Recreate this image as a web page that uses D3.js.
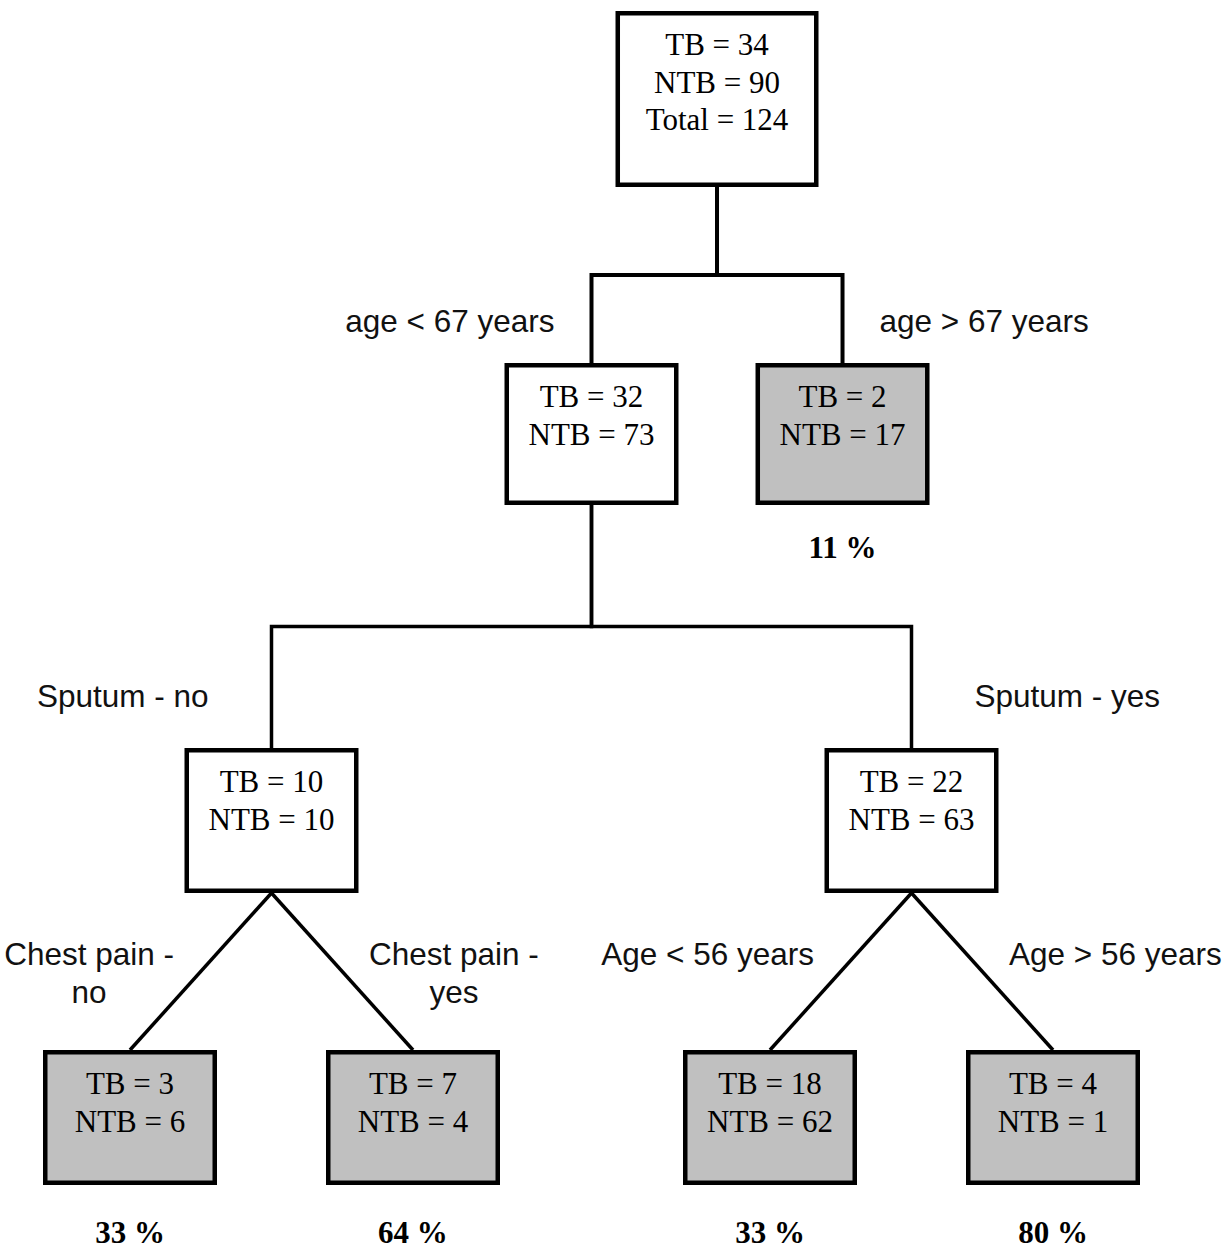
<!DOCTYPE html>
<html>
<head>
<meta charset="utf-8">
<script src="https://cdn.jsdelivr.net/npm/d3@7/dist/d3.min.js"></script>
<style>
  body { margin: 0; background: #fff; }
  svg { display: block; }
</style>
</head>
<body>
<svg id="tree"></svg>
<script>
// node data
const nodeIds   = ['root', 'lt67', 'gt67', 'spNo', 'spYes', 'cpNo', 'cpYes', 'ageLt56', 'ageGt56'];
const parentIds = ['', 'root', 'root', 'lt67', 'lt67', 'spNo', 'spNo', 'spYes', 'spYes'];
const tbCounts  = [34, 32, 2, 10, 22, 3, 7, 18, 4];
const ntbCounts = [90, 73, 17, 10, 63, 6, 4, 62, 1];
const totals    = [124, null, null, null, null, null, null, null, null];
const splitLabels = ['', 'age < 67 years', 'age > 67 years', 'Sputum - no', 'Sputum - yes',
                     'Chest pain -|no', 'Chest pain -|yes', 'Age < 56 years', 'Age > 56 years'];
const tbPercent = [null, null, 11, null, null, 33, 64, 33, 80];

// drawing setup
const width = 1227;
const height = 1255;
const serif = '"Liberation Serif", "Times New Roman", Times, serif';
const sans = '"Liberation Sans", Arial, Helvetica, sans-serif';
const grey = '#c0c0c0';
const boxStroke = 4.5;
const linkStroke = 3.5;

// level layout
const levelTop = d3.scaleOrdinal().domain([0, 1, 2, 3]).range([11, 363, 748, 1050]);
const boxW = d => d.depth === 0 ? 203 : 174;
const boxH = d => [176, 142, 145, 135][d.depth];
const labelDx = [0, 37, 63, -44];
const labelDy = [0, 31, 41, 85];
const pctDy = [0, 53, 0, 58];

const rows = nodeIds.map((id, i) => ({
  id, parent: parentIds[i] || null,
  tb: tbCounts[i], ntb: ntbCounts[i], total: totals[i],
  label: splitLabels[i], pct: tbPercent[i]
}));

const root = d3.stratify().id(d => d.id).parentId(d => d.parent)(rows);

d3.tree()
  .nodeSize([1, 1])
  .separation((a, b) => a.depth === 1 ? 0.887 : (a.parent === b.parent ? 1 : 1.2615))(root);

const bottomNodes = root.descendants().filter(d => d.depth === 3);
const xScale = d3.scaleLinear()
  .domain(d3.extent(bottomNodes, d => d.x))
  .range([130, 1053]);

root.each(d => {
  d.cx = xScale(d.x);
  d.top = levelTop(d.depth);
  d.bottom = d.top + boxH(d);
});

const svg = d3.select('#tree')
  .attr('width', width)
  .attr('height', height);

// links
svg.append('g')
  .selectAll('path')
  .data(root.links())
  .join('path')
  .attr('fill', 'none')
  .attr('stroke', '#000')
  .attr('stroke-width', l => l.source.depth === 0 ? 4 : linkStroke)
  .attr('d', l => {
    const s = l.source, t = l.target;
    if (t.depth === 3) {
      return `M${s.cx},${s.bottom}L${t.cx},${t.top}`;
    }
    const my = (s.bottom + t.top) / 2;
    return `M${s.cx},${s.bottom}V${my}H${t.cx}V${t.top}`;
  });

// boxes
const nodes = svg.append('g')
  .selectAll('g')
  .data(root.descendants())
  .join('g');

nodes.append('rect')
  .attr('x', d => d.cx - boxW(d) / 2 + boxStroke / 2)
  .attr('y', d => d.top + boxStroke / 2)
  .attr('width', d => boxW(d) - boxStroke)
  .attr('height', d => boxH(d) - boxStroke)
  .attr('fill', d => d.children ? '#fff' : grey)
  .attr('stroke', '#000')
  .attr('stroke-width', boxStroke);

nodes.each(function (d) {
  const lines = [`TB = ${d.data.tb}`, `NTB = ${d.data.ntb}`];
  if (d.data.total != null) lines.push(`Total = ${d.data.total}`);
  d3.select(this).selectAll('text.count')
    .data(lines)
    .join('text')
    .attr('class', 'count')
    .attr('x', d.cx)
    .attr('y', (t, i) => d.top + 44 + i * 37.5)
    .attr('text-anchor', 'middle')
    .attr('font-family', serif)
    .attr('font-size', 31)
    .text(t => t);
});

// split labels
root.descendants().filter(d => d.parent).forEach(d => {
  const left = d.cx < d.parent.cx;
  const parts = d.data.label.split('|');
  const dx = labelDx[d.depth];
  const x = left ? d.cx - dx : d.cx + dx;
  const y = d.top - labelDy[d.depth];
  const first = svg.append('text')
    .attr('x', x)
    .attr('y', y)
    .attr('text-anchor', left ? 'end' : 'start')
    .attr('font-family', sans)
    .attr('font-size', 31.5)
    .attr('fill', '#111')
    .text(parts[0]);
  if (parts.length > 1) {
    const bb = first.node().getBBox();
    svg.append('text')
      .attr('x', bb.x + bb.width / 2)
      .attr('y', y + 38)
      .attr('text-anchor', 'middle')
      .attr('font-family', sans)
      .attr('font-size', 31.5)
      .attr('fill', '#111')
      .text(parts[1]);
  }
});

// percentages under terminal nodes
svg.append('g')
  .selectAll('text')
  .data(root.descendants().filter(d => d.data.pct != null))
  .join('text')
  .attr('x', d => d.cx)
  .attr('y', d => d.bottom + pctDy[d.depth])
  .attr('text-anchor', 'middle')
  .attr('font-family', serif)
  .attr('font-weight', 'bold')
  .attr('font-size', 31)
  .text(d => `${d.data.pct} %`);
</script>
</body>
</html>
